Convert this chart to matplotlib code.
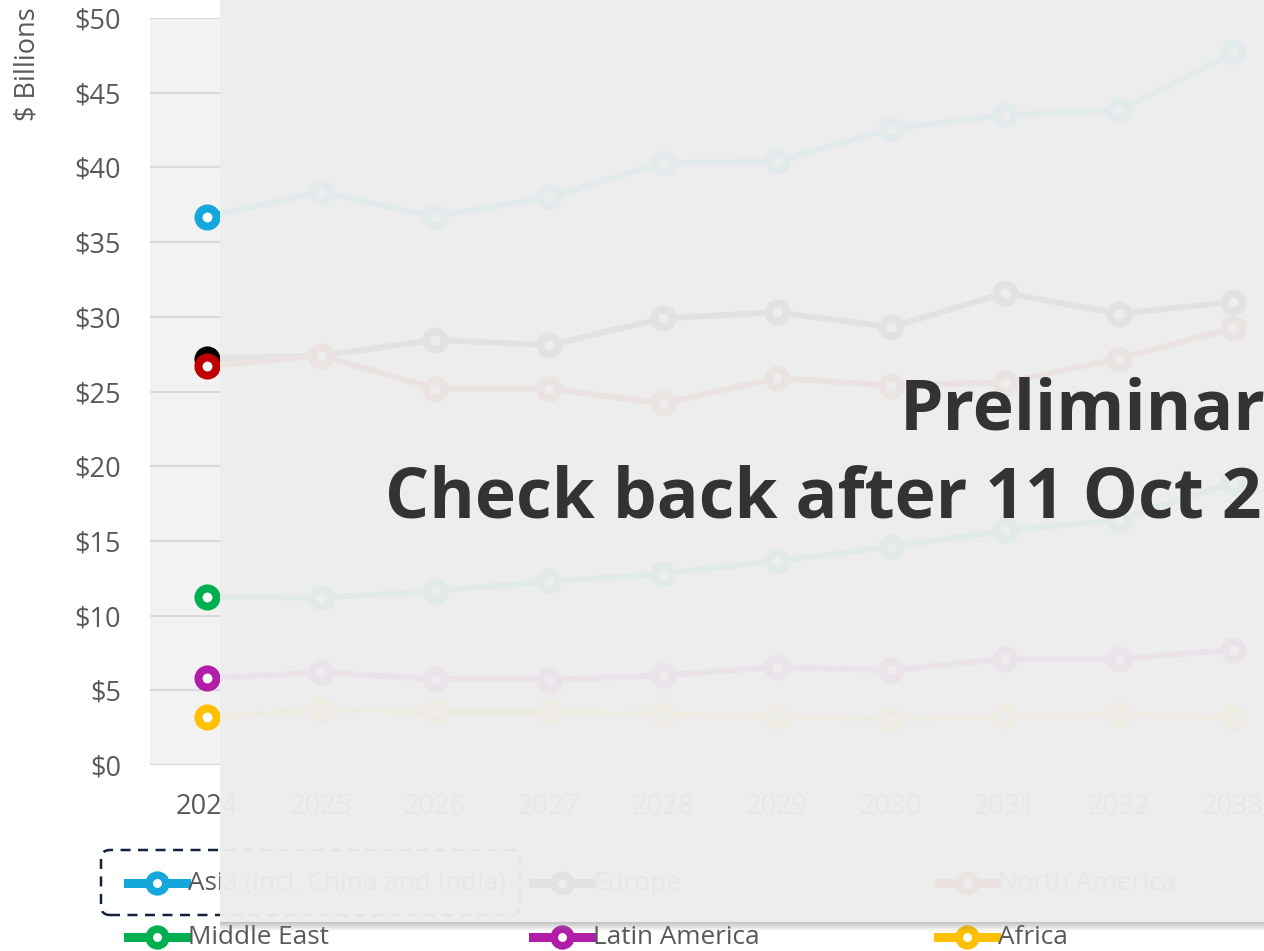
import matplotlib
matplotlib.use('Agg')
import matplotlib.pyplot as plt
from matplotlib.lines import Line2D
from matplotlib.patches import Rectangle, FancyBboxPatch
from matplotlib.transforms import IdentityTransform

plt.rcParams['font.family'] = ['Open Sans', 'DejaVu Sans']

# data ($ billions)
years = [2024, 2025, 2026, 2027, 2028, 2029, 2030, 2031, 2032, 2033]
asia = [36.7, 38.35, 36.7, 38.0, 40.3, 40.4, 42.6, 43.5, 43.85, 47.7]
europe = [27.2, 27.4, 28.45, 28.1, 29.9, 30.3, 29.3, 31.6, 30.2, 31.0]
north_america = [26.7, 27.4, 25.2, 25.2, 24.2, 25.9, 25.4, 25.6, 27.2, 29.25]
middle_east = [11.25, 11.2, 11.65, 12.3, 12.8, 13.65, 14.6, 15.7, 16.4, 18.9]
latin_america = [5.8, 6.2, 5.75, 5.7, 6.0, 6.55, 6.35, 7.1, 7.1, 7.7]
africa = [3.2, 3.7, 3.55, 3.55, 3.4, 3.2, 3.1, 3.2, 3.4, 3.15]

names = ['Asia (incl. China and India)', 'Europe', 'North America',
         'Middle East', 'Latin America', 'Africa']
series = [asia, europe, north_america, middle_east, latin_america, africa]
colors = ['#14a7db', '#000000', '#c00000', '#00b050', '#b01ea8', '#ffc000']
yticks = list(range(0, 51, 5))

W, H = 1264, 951
TXT = '#595959'
fig = plt.figure(figsize=(W / 100, H / 100), dpi=100)


def fx(px):
    return px / W


def fy(py):
    return 1 - py / H


ax = fig.add_axes([fx(150), fy(765), 1 - fx(150), fy(18) - fy(765)])
ax.set_facecolor('#f2f2f2')
for s in ax.spines.values():
    s.set_visible(False)

for vals, c in zip(series, colors):
    ax.plot(years, vals, color=c, lw=4.3, marker='o', ms=13, mfc='white',
            mec=c, mew=5.8, zorder=3)

ax.set_xlim(2023.5, 2024 + (1264 - 207) / 114)
ax.set_ylim(0, 50)
ax.set_yticks(yticks)
ax.set_yticklabels(['$' + str(v) for v in yticks])
ax.set_xticks(years)
ax.set_xticklabels([str(y) for y in years])
ax.tick_params(length=0, labelsize=19.5, colors=TXT)
ax.tick_params(axis='y', pad=21)
ax.tick_params(axis='x', pad=20)
ax.yaxis.grid(True, color='#d9d9d9', lw=1.5)
ax.set_axisbelow(True)

fig.text(fx(28), fy(64), '$ Billions', rotation=90, ha='center', va='center',
         fontsize=19.5, color=TXT)

# legend, drawn by hand in pixel space
ident = IdentityTransform()
col_x = [128, 533, 938]
row_y = [883, 937]
for i, (name, c) in enumerate(zip(names, colors)):
    x0 = col_x[i % 3]
    y0 = H - row_y[i // 3]
    fig.add_artist(Line2D([x0, x0 + 58], [y0, y0], color=c, lw=6.5,
                          transform=ident, zorder=2))
    fig.add_artist(Line2D([x0 + 29], [y0], color=c, marker='o', ms=12,
                          mfc='white', mec=c, mew=5.5, transform=ident, zorder=2))
    fig.text(fx(x0 + 60), fy(row_y[i // 3]), name, ha='left', va='center',
             fontsize=18.8, color=TXT, zorder=2)

# keyboard focus box round the first legend entry
fig.add_artist(FancyBboxPatch((101, H - 915), 419, 65,
                              boxstyle='round,pad=0,rounding_size=9',
                              transform=ident, fc='none', ec='#14213d',
                              lw=1.8, ls=(0, (4, 3)), zorder=2))

# "preliminary" overlay
fig.add_artist(Rectangle((fx(220), fy(922)), 1, 1, transform=fig.transFigure,
                         fc='#ededed', ec='none', alpha=0.96, zorder=10))
for k in range(9):
    fig.add_artist(Rectangle((fx(220), fy(923 + k)), 1, 1 / H,
                             transform=fig.transFigure, fc='#808080',
                             ec='none', alpha=0.45 * (1 - k / 9), zorder=10))

fig.text(fx(900), fy(430), 'Preliminary', ha='left', va='baseline',
         fontsize=50, fontweight='bold', color='#333333', zorder=11)
fig.text(fx(385), fy(517), 'Check back after 11 Oct 2025', ha='left',
         va='baseline', fontsize=50, fontweight='bold', color='#333333',
         zorder=11)

fig.savefig('out.png', dpi=100)
